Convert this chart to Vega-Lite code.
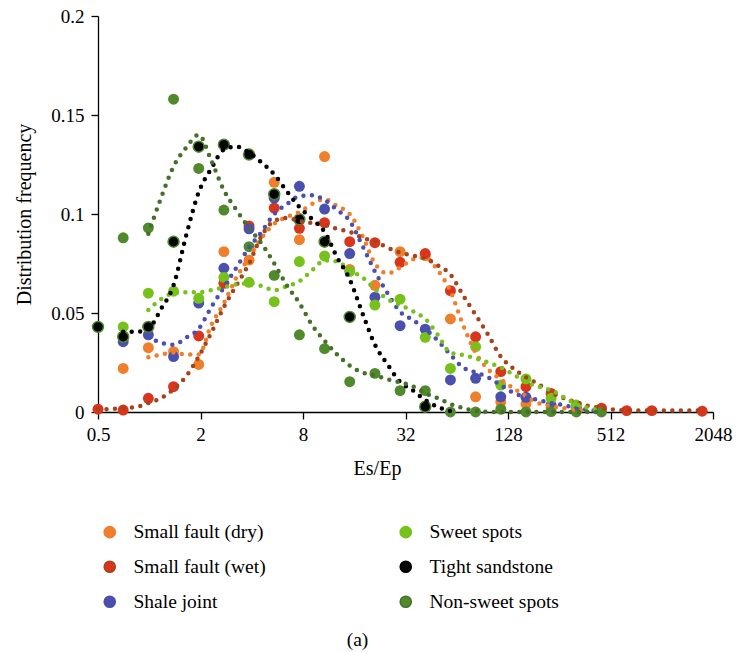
{
  "$schema": "https://vega.github.io/schema/vega-lite/v6.json",
  "width": 615,
  "height": 396,
  "autosize": {"type": "none"},
  "padding": {"left": 98, "top": 16, "right": 25, "bottom": 240},
  "background": "white",
  "config": {
    "view": {"stroke": null},
    "axis": {"grid": false, "domainColor": "black", "tickColor": "black", "labelColor": "black", "titleColor": "black"}
  },
  "title": {"text": "(a)", "orient": "bottom", "anchor": "middle", "frame": "group", "dx": -48, "offset": 19, "font": "Liberation Serif", "fontSize": 19.5, "fontWeight": "normal", "color": "black"},
  "data": {"values": [
      {"kind": "point", "series": "Small fault (dry)", "x": 0.703, "y": 0.022},
      {"kind": "point", "series": "Small fault (dry)", "x": 0.988, "y": 0.0325},
      {"kind": "point", "series": "Small fault (dry)", "x": 1.389, "y": 0.0305},
      {"kind": "point", "series": "Small fault (dry)", "x": 1.952, "y": 0.024},
      {"kind": "point", "series": "Small fault (dry)", "x": 2.744, "y": 0.081},
      {"kind": "point", "series": "Small fault (dry)", "x": 3.857, "y": 0.0767},
      {"kind": "point", "series": "Small fault (dry)", "x": 5.421, "y": 0.116},
      {"kind": "point", "series": "Small fault (dry)", "x": 7.62, "y": 0.087},
      {"kind": "point", "series": "Small fault (dry)", "x": 10.71, "y": 0.129},
      {"kind": "point", "series": "Small fault (dry)", "x": 15.05, "y": 0.072},
      {"kind": "point", "series": "Small fault (dry)", "x": 21.16, "y": 0.064},
      {"kind": "point", "series": "Small fault (dry)", "x": 29.74, "y": 0.081},
      {"kind": "point", "series": "Small fault (dry)", "x": 41.8, "y": 0.079},
      {"kind": "point", "series": "Small fault (dry)", "x": 58.76, "y": 0.047},
      {"kind": "point", "series": "Small fault (dry)", "x": 82.6, "y": 0.0077},
      {"kind": "point", "series": "Small fault (dry)", "x": 116.1, "y": 0.005},
      {"kind": "point", "series": "Small fault (dry)", "x": 163.2, "y": 0.004},
      {"kind": "point", "series": "Small fault (dry)", "x": 229.4, "y": 0.002},
      {"kind": "point", "series": "Small fault (dry)", "x": 322.4, "y": 0.002},
      {"kind": "point", "series": "Small fault (dry)", "x": 453.2, "y": 0.001},
      {"kind": "point", "series": "Small fault (wet)", "x": 0.5, "y": 0.0014},
      {"kind": "point", "series": "Small fault (wet)", "x": 0.703, "y": 0.001},
      {"kind": "point", "series": "Small fault (wet)", "x": 0.988, "y": 0.0069},
      {"kind": "point", "series": "Small fault (wet)", "x": 1.389, "y": 0.0128},
      {"kind": "point", "series": "Small fault (wet)", "x": 1.952, "y": 0.0384},
      {"kind": "point", "series": "Small fault (wet)", "x": 2.744, "y": 0.065},
      {"kind": "point", "series": "Small fault (wet)", "x": 3.857, "y": 0.094},
      {"kind": "point", "series": "Small fault (wet)", "x": 5.421, "y": 0.103},
      {"kind": "point", "series": "Small fault (wet)", "x": 7.62, "y": 0.0928},
      {"kind": "point", "series": "Small fault (wet)", "x": 10.71, "y": 0.0956},
      {"kind": "point", "series": "Small fault (wet)", "x": 15.05, "y": 0.086},
      {"kind": "point", "series": "Small fault (wet)", "x": 21.16, "y": 0.0855},
      {"kind": "point", "series": "Small fault (wet)", "x": 29.74, "y": 0.0756},
      {"kind": "point", "series": "Small fault (wet)", "x": 41.8, "y": 0.08},
      {"kind": "point", "series": "Small fault (wet)", "x": 58.76, "y": 0.0613},
      {"kind": "point", "series": "Small fault (wet)", "x": 82.6, "y": 0.038},
      {"kind": "point", "series": "Small fault (wet)", "x": 116.1, "y": 0.0204},
      {"kind": "point", "series": "Small fault (wet)", "x": 163.2, "y": 0.0128},
      {"kind": "point", "series": "Small fault (wet)", "x": 229.4, "y": 0.0094},
      {"kind": "point", "series": "Small fault (wet)", "x": 453.2, "y": 0.0019},
      {"kind": "point", "series": "Small fault (wet)", "x": 637.2, "y": 0.0007},
      {"kind": "point", "series": "Small fault (wet)", "x": 895.3, "y": 0.0007},
      {"kind": "point", "series": "Small fault (wet)", "x": 1769.6, "y": 0.0004},
      {"kind": "point", "series": "Shale joint", "x": 0.703, "y": 0.0355},
      {"kind": "point", "series": "Shale joint", "x": 0.988, "y": 0.039},
      {"kind": "point", "series": "Shale joint", "x": 1.389, "y": 0.028},
      {"kind": "point", "series": "Shale joint", "x": 1.952, "y": 0.055},
      {"kind": "point", "series": "Shale joint", "x": 2.744, "y": 0.0726},
      {"kind": "point", "series": "Shale joint", "x": 3.857, "y": 0.0925},
      {"kind": "point", "series": "Shale joint", "x": 5.421, "y": 0.108},
      {"kind": "point", "series": "Shale joint", "x": 7.62, "y": 0.114},
      {"kind": "point", "series": "Shale joint", "x": 10.71, "y": 0.1025},
      {"kind": "point", "series": "Shale joint", "x": 15.05, "y": 0.08},
      {"kind": "point", "series": "Shale joint", "x": 21.16, "y": 0.058},
      {"kind": "point", "series": "Shale joint", "x": 29.74, "y": 0.0436},
      {"kind": "point", "series": "Shale joint", "x": 41.8, "y": 0.0418},
      {"kind": "point", "series": "Shale joint", "x": 58.76, "y": 0.0162},
      {"kind": "point", "series": "Shale joint", "x": 82.6, "y": 0.017},
      {"kind": "point", "series": "Shale joint", "x": 116.1, "y": 0.0077},
      {"kind": "point", "series": "Shale joint", "x": 163.2, "y": 0.0074},
      {"kind": "point", "series": "Shale joint", "x": 229.4, "y": 0.0035},
      {"kind": "point", "series": "Shale joint", "x": 322.4, "y": 0.002},
      {"kind": "point", "series": "Sweet spots", "x": 0.703, "y": 0.043},
      {"kind": "point", "series": "Sweet spots", "x": 0.988, "y": 0.06},
      {"kind": "point", "series": "Sweet spots", "x": 1.389, "y": 0.061},
      {"kind": "point", "series": "Sweet spots", "x": 1.952, "y": 0.0574},
      {"kind": "point", "series": "Sweet spots", "x": 2.744, "y": 0.068},
      {"kind": "point", "series": "Sweet spots", "x": 3.857, "y": 0.0655},
      {"kind": "point", "series": "Sweet spots", "x": 5.421, "y": 0.0557},
      {"kind": "point", "series": "Sweet spots", "x": 7.62, "y": 0.076},
      {"kind": "point", "series": "Sweet spots", "x": 10.71, "y": 0.0788},
      {"kind": "point", "series": "Sweet spots", "x": 15.05, "y": 0.071},
      {"kind": "point", "series": "Sweet spots", "x": 21.16, "y": 0.054},
      {"kind": "point", "series": "Sweet spots", "x": 29.74, "y": 0.057},
      {"kind": "point", "series": "Sweet spots", "x": 41.8, "y": 0.0377},
      {"kind": "point", "series": "Sweet spots", "x": 58.76, "y": 0.022},
      {"kind": "point", "series": "Sweet spots", "x": 82.6, "y": 0.033},
      {"kind": "point", "series": "Sweet spots", "x": 116.1, "y": 0.0136},
      {"kind": "point", "series": "Sweet spots", "x": 163.2, "y": 0.0167},
      {"kind": "point", "series": "Sweet spots", "x": 229.4, "y": 0.0069},
      {"kind": "point", "series": "Sweet spots", "x": 322.4, "y": 0.0035},
      {"kind": "point", "series": "Non-sweet spots", "x": 0.703, "y": 0.088},
      {"kind": "point", "series": "Non-sweet spots", "x": 0.988, "y": 0.093},
      {"kind": "point", "series": "Non-sweet spots", "x": 1.389, "y": 0.158},
      {"kind": "point", "series": "Non-sweet spots", "x": 1.952, "y": 0.123},
      {"kind": "point", "series": "Non-sweet spots", "x": 2.744, "y": 0.102},
      {"kind": "point", "series": "Non-sweet spots", "x": 3.857, "y": 0.0835},
      {"kind": "point", "series": "Non-sweet spots", "x": 5.421, "y": 0.069},
      {"kind": "point", "series": "Non-sweet spots", "x": 7.62, "y": 0.039},
      {"kind": "point", "series": "Non-sweet spots", "x": 10.71, "y": 0.032},
      {"kind": "point", "series": "Non-sweet spots", "x": 15.05, "y": 0.0153},
      {"kind": "point", "series": "Non-sweet spots", "x": 21.16, "y": 0.0195},
      {"kind": "point", "series": "Non-sweet spots", "x": 29.74, "y": 0.0108},
      {"kind": "point", "series": "Non-sweet spots", "x": 41.8, "y": 0.0108},
      {"kind": "point", "series": "Non-sweet spots", "x": 58.76, "y": 0},
      {"kind": "point", "series": "Non-sweet spots", "x": 82.6, "y": 0},
      {"kind": "point", "series": "Non-sweet spots", "x": 116.1, "y": 0.0014},
      {"kind": "point", "series": "Non-sweet spots", "x": 163.2, "y": 0},
      {"kind": "point", "series": "Non-sweet spots", "x": 229.4, "y": 0.0002},
      {"kind": "point", "series": "Non-sweet spots", "x": 322.4, "y": 0},
      {"kind": "point", "series": "Non-sweet spots", "x": 453.2, "y": 0},
      {"kind": "point", "series": "Tight sandstone", "x": 0.5, "y": 0.043},
      {"kind": "point", "series": "Tight sandstone", "x": 0.703, "y": 0.038},
      {"kind": "point", "series": "Tight sandstone", "x": 0.988, "y": 0.043},
      {"kind": "point", "series": "Tight sandstone", "x": 1.389, "y": 0.086},
      {"kind": "point", "series": "Tight sandstone", "x": 1.952, "y": 0.134},
      {"kind": "point", "series": "Tight sandstone", "x": 2.744, "y": 0.135},
      {"kind": "point", "series": "Tight sandstone", "x": 3.857, "y": 0.13},
      {"kind": "point", "series": "Tight sandstone", "x": 5.421, "y": 0.11},
      {"kind": "point", "series": "Tight sandstone", "x": 7.62, "y": 0.0973},
      {"kind": "point", "series": "Tight sandstone", "x": 10.71, "y": 0.086},
      {"kind": "point", "series": "Tight sandstone", "x": 15.05, "y": 0.048},
      {"kind": "point", "series": "Tight sandstone", "x": 41.8, "y": 0.0027},
      {"kind": "curve", "series": "Small fault (dry)", "x": 0.988, "y": 0.0276},
      {"kind": "curve", "series": "Small fault (dry)", "x": 1.171, "y": 0.029},
      {"kind": "curve", "series": "Small fault (dry)", "x": 1.389, "y": 0.03},
      {"kind": "curve", "series": "Small fault (dry)", "x": 1.646, "y": 0.029},
      {"kind": "curve", "series": "Small fault (dry)", "x": 1.952, "y": 0.029},
      {"kind": "curve", "series": "Small fault (dry)", "x": 2.314, "y": 0.044},
      {"kind": "curve", "series": "Small fault (dry)", "x": 2.744, "y": 0.055},
      {"kind": "curve", "series": "Small fault (dry)", "x": 3.253, "y": 0.068},
      {"kind": "curve", "series": "Small fault (dry)", "x": 3.857, "y": 0.078},
      {"kind": "curve", "series": "Small fault (dry)", "x": 4.572, "y": 0.088},
      {"kind": "curve", "series": "Small fault (dry)", "x": 5.421, "y": 0.095},
      {"kind": "curve", "series": "Small fault (dry)", "x": 6.427, "y": 0.0985},
      {"kind": "curve", "series": "Small fault (dry)", "x": 7.62, "y": 0.101},
      {"kind": "curve", "series": "Small fault (dry)", "x": 9.034, "y": 0.105},
      {"kind": "curve", "series": "Small fault (dry)", "x": 10.71, "y": 0.1075},
      {"kind": "curve", "series": "Small fault (dry)", "x": 12.7, "y": 0.104},
      {"kind": "curve", "series": "Small fault (dry)", "x": 15.05, "y": 0.1},
      {"kind": "curve", "series": "Small fault (dry)", "x": 17.85, "y": 0.089},
      {"kind": "curve", "series": "Small fault (dry)", "x": 21.16, "y": 0.075},
      {"kind": "curve", "series": "Small fault (dry)", "x": 25.09, "y": 0.07},
      {"kind": "curve", "series": "Small fault (dry)", "x": 29.74, "y": 0.073},
      {"kind": "curve", "series": "Small fault (dry)", "x": 35.26, "y": 0.077},
      {"kind": "curve", "series": "Small fault (dry)", "x": 41.8, "y": 0.078},
      {"kind": "curve", "series": "Small fault (dry)", "x": 49.56, "y": 0.0715},
      {"kind": "curve", "series": "Small fault (dry)", "x": 58.76, "y": 0.061},
      {"kind": "curve", "series": "Small fault (dry)", "x": 69.67, "y": 0.044},
      {"kind": "curve", "series": "Small fault (dry)", "x": 82.6, "y": 0.03},
      {"kind": "curve", "series": "Small fault (dry)", "x": 97.92, "y": 0.0215},
      {"kind": "curve", "series": "Small fault (dry)", "x": 116.1, "y": 0.0165},
      {"kind": "curve", "series": "Small fault (dry)", "x": 137.6, "y": 0.012},
      {"kind": "curve", "series": "Small fault (dry)", "x": 163.2, "y": 0.008},
      {"kind": "curve", "series": "Small fault (dry)", "x": 193.5, "y": 0.0045},
      {"kind": "curve", "series": "Small fault (dry)", "x": 229.4, "y": 0.003},
      {"kind": "curve", "series": "Small fault (dry)", "x": 271.9, "y": 0.0019},
      {"kind": "curve", "series": "Small fault (dry)", "x": 322.4, "y": 0.001},
      {"kind": "curve", "series": "Small fault (dry)", "x": 382.2, "y": 0.0007},
      {"kind": "curve", "series": "Small fault (wet)", "x": 0.5, "y": 0.0014},
      {"kind": "curve", "series": "Small fault (wet)", "x": 0.593, "y": 0.0015},
      {"kind": "curve", "series": "Small fault (wet)", "x": 0.703, "y": 0.002},
      {"kind": "curve", "series": "Small fault (wet)", "x": 0.833, "y": 0.0025},
      {"kind": "curve", "series": "Small fault (wet)", "x": 0.988, "y": 0.0045},
      {"kind": "curve", "series": "Small fault (wet)", "x": 1.171, "y": 0.007},
      {"kind": "curve", "series": "Small fault (wet)", "x": 1.389, "y": 0.0115},
      {"kind": "curve", "series": "Small fault (wet)", "x": 1.646, "y": 0.018},
      {"kind": "curve", "series": "Small fault (wet)", "x": 1.952, "y": 0.028},
      {"kind": "curve", "series": "Small fault (wet)", "x": 2.314, "y": 0.04},
      {"kind": "curve", "series": "Small fault (wet)", "x": 2.744, "y": 0.053},
      {"kind": "curve", "series": "Small fault (wet)", "x": 3.253, "y": 0.064},
      {"kind": "curve", "series": "Small fault (wet)", "x": 3.857, "y": 0.075},
      {"kind": "curve", "series": "Small fault (wet)", "x": 4.572, "y": 0.089},
      {"kind": "curve", "series": "Small fault (wet)", "x": 5.421, "y": 0.0965},
      {"kind": "curve", "series": "Small fault (wet)", "x": 6.427, "y": 0.098},
      {"kind": "curve", "series": "Small fault (wet)", "x": 7.62, "y": 0.0965},
      {"kind": "curve", "series": "Small fault (wet)", "x": 9.034, "y": 0.0955},
      {"kind": "curve", "series": "Small fault (wet)", "x": 10.71, "y": 0.0945},
      {"kind": "curve", "series": "Small fault (wet)", "x": 12.7, "y": 0.0925},
      {"kind": "curve", "series": "Small fault (wet)", "x": 15.05, "y": 0.091},
      {"kind": "curve", "series": "Small fault (wet)", "x": 17.85, "y": 0.088},
      {"kind": "curve", "series": "Small fault (wet)", "x": 21.16, "y": 0.0862},
      {"kind": "curve", "series": "Small fault (wet)", "x": 25.09, "y": 0.083},
      {"kind": "curve", "series": "Small fault (wet)", "x": 29.74, "y": 0.0805},
      {"kind": "curve", "series": "Small fault (wet)", "x": 35.26, "y": 0.079},
      {"kind": "curve", "series": "Small fault (wet)", "x": 41.8, "y": 0.0775},
      {"kind": "curve", "series": "Small fault (wet)", "x": 49.56, "y": 0.074},
      {"kind": "curve", "series": "Small fault (wet)", "x": 58.76, "y": 0.0695},
      {"kind": "curve", "series": "Small fault (wet)", "x": 69.67, "y": 0.059},
      {"kind": "curve", "series": "Small fault (wet)", "x": 82.6, "y": 0.049},
      {"kind": "curve", "series": "Small fault (wet)", "x": 97.92, "y": 0.039},
      {"kind": "curve", "series": "Small fault (wet)", "x": 116.1, "y": 0.028},
      {"kind": "curve", "series": "Small fault (wet)", "x": 137.6, "y": 0.022},
      {"kind": "curve", "series": "Small fault (wet)", "x": 163.2, "y": 0.0175},
      {"kind": "curve", "series": "Small fault (wet)", "x": 193.5, "y": 0.014},
      {"kind": "curve", "series": "Small fault (wet)", "x": 229.4, "y": 0.0098},
      {"kind": "curve", "series": "Small fault (wet)", "x": 271.9, "y": 0.007},
      {"kind": "curve", "series": "Small fault (wet)", "x": 322.4, "y": 0.005},
      {"kind": "curve", "series": "Small fault (wet)", "x": 382.2, "y": 0.003},
      {"kind": "curve", "series": "Small fault (wet)", "x": 453.2, "y": 0.002},
      {"kind": "curve", "series": "Small fault (wet)", "x": 537.4, "y": 0.0012},
      {"kind": "curve", "series": "Small fault (wet)", "x": 637.2, "y": 0.0008},
      {"kind": "curve", "series": "Small fault (wet)", "x": 895.3, "y": 0.0007},
      {"kind": "curve", "series": "Small fault (wet)", "x": 1258.6, "y": 0.0007},
      {"kind": "curve", "series": "Small fault (wet)", "x": 1769.6, "y": 0.0007},
      {"kind": "curve", "series": "Shale joint", "x": 0.988, "y": 0.038},
      {"kind": "curve", "series": "Shale joint", "x": 1.171, "y": 0.035},
      {"kind": "curve", "series": "Shale joint", "x": 1.389, "y": 0.034},
      {"kind": "curve", "series": "Shale joint", "x": 1.646, "y": 0.0375},
      {"kind": "curve", "series": "Shale joint", "x": 1.952, "y": 0.042},
      {"kind": "curve", "series": "Shale joint", "x": 2.314, "y": 0.053},
      {"kind": "curve", "series": "Shale joint", "x": 2.744, "y": 0.063},
      {"kind": "curve", "series": "Shale joint", "x": 3.253, "y": 0.073},
      {"kind": "curve", "series": "Shale joint", "x": 3.857, "y": 0.083},
      {"kind": "curve", "series": "Shale joint", "x": 4.572, "y": 0.091},
      {"kind": "curve", "series": "Shale joint", "x": 5.421, "y": 0.1},
      {"kind": "curve", "series": "Shale joint", "x": 6.427, "y": 0.105},
      {"kind": "curve", "series": "Shale joint", "x": 7.62, "y": 0.109},
      {"kind": "curve", "series": "Shale joint", "x": 9.034, "y": 0.1095},
      {"kind": "curve", "series": "Shale joint", "x": 10.71, "y": 0.107},
      {"kind": "curve", "series": "Shale joint", "x": 12.7, "y": 0.102},
      {"kind": "curve", "series": "Shale joint", "x": 15.05, "y": 0.0965},
      {"kind": "curve", "series": "Shale joint", "x": 17.85, "y": 0.084},
      {"kind": "curve", "series": "Shale joint", "x": 21.16, "y": 0.071},
      {"kind": "curve", "series": "Shale joint", "x": 25.09, "y": 0.06},
      {"kind": "curve", "series": "Shale joint", "x": 29.74, "y": 0.0506},
      {"kind": "curve", "series": "Shale joint", "x": 35.26, "y": 0.0465},
      {"kind": "curve", "series": "Shale joint", "x": 41.8, "y": 0.042},
      {"kind": "curve", "series": "Shale joint", "x": 49.56, "y": 0.036},
      {"kind": "curve", "series": "Shale joint", "x": 58.76, "y": 0.029},
      {"kind": "curve", "series": "Shale joint", "x": 69.67, "y": 0.0225},
      {"kind": "curve", "series": "Shale joint", "x": 82.6, "y": 0.02},
      {"kind": "curve", "series": "Shale joint", "x": 97.92, "y": 0.0175},
      {"kind": "curve", "series": "Shale joint", "x": 116.1, "y": 0.0135},
      {"kind": "curve", "series": "Shale joint", "x": 137.6, "y": 0.0097},
      {"kind": "curve", "series": "Shale joint", "x": 163.2, "y": 0.0075},
      {"kind": "curve", "series": "Shale joint", "x": 193.5, "y": 0.006},
      {"kind": "curve", "series": "Shale joint", "x": 229.4, "y": 0.0045},
      {"kind": "curve", "series": "Shale joint", "x": 271.9, "y": 0.0035},
      {"kind": "curve", "series": "Shale joint", "x": 322.4, "y": 0.002},
      {"kind": "curve", "series": "Shale joint", "x": 382.2, "y": 0.001},
      {"kind": "curve", "series": "Shale joint", "x": 453.2, "y": 0.0005},
      {"kind": "curve", "series": "Sweet spots", "x": 0.988, "y": 0.0515},
      {"kind": "curve", "series": "Sweet spots", "x": 1.171, "y": 0.057},
      {"kind": "curve", "series": "Sweet spots", "x": 1.389, "y": 0.06},
      {"kind": "curve", "series": "Sweet spots", "x": 1.646, "y": 0.0605},
      {"kind": "curve", "series": "Sweet spots", "x": 1.952, "y": 0.0605},
      {"kind": "curve", "series": "Sweet spots", "x": 2.314, "y": 0.0615},
      {"kind": "curve", "series": "Sweet spots", "x": 2.744, "y": 0.063},
      {"kind": "curve", "series": "Sweet spots", "x": 3.253, "y": 0.0645},
      {"kind": "curve", "series": "Sweet spots", "x": 3.857, "y": 0.065},
      {"kind": "curve", "series": "Sweet spots", "x": 4.572, "y": 0.0636},
      {"kind": "curve", "series": "Sweet spots", "x": 5.421, "y": 0.0615},
      {"kind": "curve", "series": "Sweet spots", "x": 6.427, "y": 0.0635},
      {"kind": "curve", "series": "Sweet spots", "x": 7.62, "y": 0.066},
      {"kind": "curve", "series": "Sweet spots", "x": 9.034, "y": 0.0715},
      {"kind": "curve", "series": "Sweet spots", "x": 10.71, "y": 0.0765},
      {"kind": "curve", "series": "Sweet spots", "x": 12.7, "y": 0.076},
      {"kind": "curve", "series": "Sweet spots", "x": 15.05, "y": 0.0715},
      {"kind": "curve", "series": "Sweet spots", "x": 17.85, "y": 0.068},
      {"kind": "curve", "series": "Sweet spots", "x": 21.16, "y": 0.062},
      {"kind": "curve", "series": "Sweet spots", "x": 25.09, "y": 0.057},
      {"kind": "curve", "series": "Sweet spots", "x": 29.74, "y": 0.054},
      {"kind": "curve", "series": "Sweet spots", "x": 35.26, "y": 0.051},
      {"kind": "curve", "series": "Sweet spots", "x": 41.8, "y": 0.047},
      {"kind": "curve", "series": "Sweet spots", "x": 49.56, "y": 0.039},
      {"kind": "curve", "series": "Sweet spots", "x": 58.76, "y": 0.03},
      {"kind": "curve", "series": "Sweet spots", "x": 69.67, "y": 0.0288},
      {"kind": "curve", "series": "Sweet spots", "x": 82.6, "y": 0.027},
      {"kind": "curve", "series": "Sweet spots", "x": 97.92, "y": 0.025},
      {"kind": "curve", "series": "Sweet spots", "x": 116.1, "y": 0.0225},
      {"kind": "curve", "series": "Sweet spots", "x": 137.6, "y": 0.019},
      {"kind": "curve", "series": "Sweet spots", "x": 163.2, "y": 0.015},
      {"kind": "curve", "series": "Sweet spots", "x": 193.5, "y": 0.0128},
      {"kind": "curve", "series": "Sweet spots", "x": 229.4, "y": 0.011},
      {"kind": "curve", "series": "Sweet spots", "x": 271.9, "y": 0.0075},
      {"kind": "curve", "series": "Sweet spots", "x": 322.4, "y": 0.004},
      {"kind": "curve", "series": "Sweet spots", "x": 382.2, "y": 0.002},
      {"kind": "curve", "series": "Sweet spots", "x": 453.2, "y": 0.001},
      {"kind": "curve", "series": "Tight sandstone", "x": 0.703, "y": 0.0405},
      {"kind": "curve", "series": "Tight sandstone", "x": 0.833, "y": 0.0405},
      {"kind": "curve", "series": "Tight sandstone", "x": 0.988, "y": 0.042},
      {"kind": "curve", "series": "Tight sandstone", "x": 1.171, "y": 0.052},
      {"kind": "curve", "series": "Tight sandstone", "x": 1.389, "y": 0.064},
      {"kind": "curve", "series": "Tight sandstone", "x": 1.646, "y": 0.089},
      {"kind": "curve", "series": "Tight sandstone", "x": 1.952, "y": 0.111},
      {"kind": "curve", "series": "Tight sandstone", "x": 2.314, "y": 0.123},
      {"kind": "curve", "series": "Tight sandstone", "x": 2.744, "y": 0.1325},
      {"kind": "curve", "series": "Tight sandstone", "x": 3.253, "y": 0.134},
      {"kind": "curve", "series": "Tight sandstone", "x": 3.857, "y": 0.131},
      {"kind": "curve", "series": "Tight sandstone", "x": 4.572, "y": 0.126},
      {"kind": "curve", "series": "Tight sandstone", "x": 5.421, "y": 0.12},
      {"kind": "curve", "series": "Tight sandstone", "x": 6.427, "y": 0.1115},
      {"kind": "curve", "series": "Tight sandstone", "x": 7.62, "y": 0.1035},
      {"kind": "curve", "series": "Tight sandstone", "x": 9.034, "y": 0.0975},
      {"kind": "curve", "series": "Tight sandstone", "x": 10.71, "y": 0.091},
      {"kind": "curve", "series": "Tight sandstone", "x": 12.7, "y": 0.078},
      {"kind": "curve", "series": "Tight sandstone", "x": 15.05, "y": 0.067},
      {"kind": "curve", "series": "Tight sandstone", "x": 17.85, "y": 0.05},
      {"kind": "curve", "series": "Tight sandstone", "x": 21.16, "y": 0.034},
      {"kind": "curve", "series": "Tight sandstone", "x": 25.09, "y": 0.024},
      {"kind": "curve", "series": "Tight sandstone", "x": 29.74, "y": 0.0153},
      {"kind": "curve", "series": "Tight sandstone", "x": 35.26, "y": 0.011},
      {"kind": "curve", "series": "Tight sandstone", "x": 41.8, "y": 0.006},
      {"kind": "curve", "series": "Tight sandstone", "x": 49.56, "y": 0.0025},
      {"kind": "curve", "series": "Tight sandstone", "x": 58.76, "y": 0.0005},
      {"kind": "curve", "series": "Non-sweet spots", "x": 0.988, "y": 0.09},
      {"kind": "curve", "series": "Non-sweet spots", "x": 1.171, "y": 0.108},
      {"kind": "curve", "series": "Non-sweet spots", "x": 1.389, "y": 0.124},
      {"kind": "curve", "series": "Non-sweet spots", "x": 1.646, "y": 0.1335},
      {"kind": "curve", "series": "Non-sweet spots", "x": 1.952, "y": 0.14},
      {"kind": "curve", "series": "Non-sweet spots", "x": 2.314, "y": 0.127},
      {"kind": "curve", "series": "Non-sweet spots", "x": 2.744, "y": 0.112},
      {"kind": "curve", "series": "Non-sweet spots", "x": 3.253, "y": 0.102},
      {"kind": "curve", "series": "Non-sweet spots", "x": 3.857, "y": 0.093},
      {"kind": "curve", "series": "Non-sweet spots", "x": 4.572, "y": 0.085},
      {"kind": "curve", "series": "Non-sweet spots", "x": 5.421, "y": 0.075},
      {"kind": "curve", "series": "Non-sweet spots", "x": 6.427, "y": 0.064},
      {"kind": "curve", "series": "Non-sweet spots", "x": 7.62, "y": 0.055},
      {"kind": "curve", "series": "Non-sweet spots", "x": 9.034, "y": 0.044},
      {"kind": "curve", "series": "Non-sweet spots", "x": 10.71, "y": 0.036},
      {"kind": "curve", "series": "Non-sweet spots", "x": 12.7, "y": 0.029},
      {"kind": "curve", "series": "Non-sweet spots", "x": 15.05, "y": 0.0235},
      {"kind": "curve", "series": "Non-sweet spots", "x": 17.85, "y": 0.02},
      {"kind": "curve", "series": "Non-sweet spots", "x": 21.16, "y": 0.0185},
      {"kind": "curve", "series": "Non-sweet spots", "x": 25.09, "y": 0.0165},
      {"kind": "curve", "series": "Non-sweet spots", "x": 29.74, "y": 0.015},
      {"kind": "curve", "series": "Non-sweet spots", "x": 35.26, "y": 0.013},
      {"kind": "curve", "series": "Non-sweet spots", "x": 41.8, "y": 0.0095},
      {"kind": "curve", "series": "Non-sweet spots", "x": 49.56, "y": 0.007},
      {"kind": "curve", "series": "Non-sweet spots", "x": 58.76, "y": 0.004},
      {"kind": "curve", "series": "Non-sweet spots", "x": 69.67, "y": 0.002},
      {"kind": "curve", "series": "Non-sweet spots", "x": 82.6, "y": 0.0005},
      {"kind": "curve", "series": "Non-sweet spots", "x": 116.1, "y": 0},
      {"kind": "curve", "series": "Non-sweet spots", "x": 229.4, "y": 0},
      {"kind": "curve", "series": "Non-sweet spots", "x": 453.2, "y": 0}
  ]},
  "encoding": {
    "x": {
      "field": "x", "type": "quantitative",
      "scale": {"type": "log", "base": 2, "domain": [0.5, 2048]},
      "axis": {"values": [0.5, 2, 8, 32, 128, 512, 2048], "format": "~g", "title": "Es/Ep", "titleX": 279, "titleY": 46, "labelPadding": 6,
        "labelFlush": false, "labelOverlap": false,
        "domainWidth": 1.3, "tickWidth": 1.3, "tickSize": 7,
        "labelFont": "Liberation Serif", "labelFontSize": 19, "titleFont": "Liberation Serif", "titleFontSize": 20, "titleFontWeight": "normal"}
    },
    "y": {
      "field": "y", "type": "quantitative",
      "scale": {"domain": [0, 0.2]},
      "axis": {"values": [0, 0.05, 0.1, 0.15, 0.2], "format": "~g", "title": "Distribution frequency", "titleX": -64, "labelPadding": 7,
        "domainWidth": 1.3, "tickWidth": 1.3, "tickSize": 7,
        "labelFont": "Liberation Serif", "labelFontSize": 19, "titleFont": "Liberation Serif", "titleFontSize": 20, "titleFontWeight": "normal"}
    }
  },
  "layer": [
    {
      "transform": [{"filter": "datum.kind === 'point'"}],
      "mark": {"type": "circle", "size": 120, "opacity": 1, "stroke": "#4d8a2c"},
      "encoding": {
        "color": {
          "field": "series", "type": "nominal",
          "scale": {
            "domain": ["Small fault (dry)", "Small fault (wet)", "Shale joint", "Sweet spots", "Tight sandstone", "Non-sweet spots"],
            "range": ["#ef7f2a", "#d9341c", "#4b4fae", "#76c21b", "#050505", "#508a2c"]
          },
          "legend": {
            "title": null, "orient": "none", "legendX": 2, "legendY": 506, "columns": 2, "columnPadding": 130, "rowPadding": 14,
            "symbolType": "circle", "symbolSize": 125, "labelFont": "Liberation Serif", "labelFontSize": 19.5,
            "labelColor": "black", "labelOffset": 14, "padding": 0,
            "encode": {"symbols": {"update": {"stroke": {"value": "#4d8a2c"}, "strokeWidth": {"signal": "datum.value === 'Tight sandstone' ? 1.5 : 0"}}}}
          }
        },
        "strokeWidth": {"condition": {"test": "datum.series === 'Tight sandstone'", "value": 1.5}, "value": 0}
      }
    },
    {
      "transform": [{"filter": "datum.kind === 'curve'"}],
      "mark": {"type": "line", "interpolate": "monotone", "strokeWidth": 4.5, "strokeCap": "round", "strokeDash": [0, 8.5]},
      "encoding": {
        "stroke": {
          "field": "series", "type": "nominal",
          "scale": {
            "domain": ["Small fault (dry)", "Small fault (wet)", "Shale joint", "Sweet spots", "Tight sandstone", "Non-sweet spots"],
            "range": ["#ef7f2a", "#a5441c", "#4b4fae", "#76c21b", "#000000", "#45702a"]
          },
          "legend": null
        }
      }
    }
  ]
}
